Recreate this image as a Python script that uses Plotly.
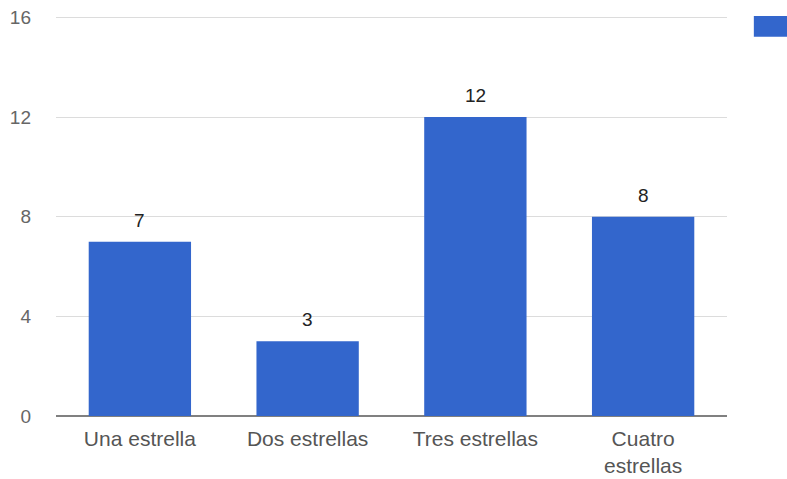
import plotly.graph_objects as go

categories = ["Una estrella", "Dos estrellas", "Tres estrellas", "Cuatro<br>estrellas"]
values = [7, 3, 12, 8]
y_ticks = [0, 4, 8, 12, 16]

FONT = "Liberation Sans, Arial, sans-serif"

fig = go.Figure()
fig.add_trace(go.Bar(
    x=categories, y=values,
    marker=dict(color="#3366cc", line=dict(width=0)),
    showlegend=False, hoverinfo="x+y",
))

for c, v in zip(categories, values):
    fig.add_annotation(x=c, y=v, text=str(v), showarrow=False, yanchor="bottom",
                       yshift=9, font=dict(family=FONT, size=19, color="#222222"))

fig.update_layout(
    width=787, height=479,
    margin=dict(l=56, r=60, t=9.5, b=63, autoexpand=False),
    paper_bgcolor="white", plot_bgcolor="white",
    bargap=0.39,
    font=dict(family=FONT, size=20, color="#555555"),
    xaxis=dict(showgrid=False, ticks="", showline=False, automargin=False,
               tickfont=dict(family=FONT, size=21, color="#555555"),
               ticklabelstandoff=8),
    yaxis=dict(range=[0, 16.3], tickvals=y_ticks, showgrid=True, gridcolor="#dcdcdc", gridwidth=1,
               zeroline=True, zerolinecolor="#808080", zerolinewidth=2, automargin=False,
               tickfont=dict(family=FONT, size=19, color="#666666"), ticklabelstandoff=24,
               showline=False),
    shapes=[dict(type="rect", xref="paper", yref="paper", x0=1.04, x1=1.09, y0=0.934, y1=0.985,
                 fillcolor="#3366cc", line=dict(width=0))],
)

fig.write_html("out.html")
